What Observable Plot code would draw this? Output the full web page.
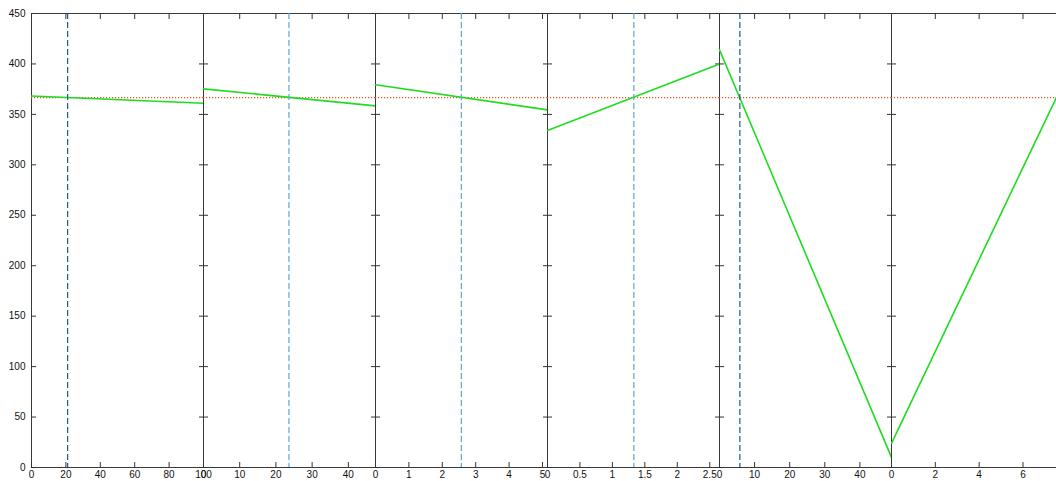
<!DOCTYPE html>
<html>
<head>
<meta charset="utf-8">
<script src="https://cdn.jsdelivr.net/npm/d3@7"></script>
<script src="https://cdn.jsdelivr.net/npm/@observablehq/plot@0.6"></script>
<style>
  html, body { margin: 0; padding: 0; background: #fff; overflow: hidden; }
  #chart { display: flex; flex-direction: row; width: 1056px; height: 481px; }
  #chart svg { overflow: visible; flex: none; }
</style>
</head>
<body>
<div id="chart"></div>
<script>
// ---- data ----
const yTicks = [0, 50, 100, 150, 200, 250, 300, 350, 400, 450];
const yDomain = [0, 450];
const xMax = [100, 47.5, 5.15, 2.65, 49, 7.53];
const xTicks = [
  [0, 20, 40, 60, 80, 100],
  [0, 10, 20, 30, 40],
  [0, 1, 2, 3, 4, 5],
  [0, 0.5, 1, 1.5, 2, 2.5],
  [0, 10, 20, 30, 40],
  [0, 2, 4, 6]
];
const lineX = [[0, 100], [0, 47.5], [0, 5.15], [0, 2.65], [0, 49], [0, 7.53]];
const lineY = [[368.3, 361], [375.3, 358.4], [379.3, 354.5], [334, 400], [414, 10], [24, 367]];
const currentX = [21, 23.6, 2.57, 1.33, 5.8, null];
const baselineY = 366.7;

// ---- styles ----
const dashColors = ["#1c5c8c", "#5ea6d4", "#5ea6d4", "#5ea6d4", "#1c5c8c", "#5ea6d4"];
const panelWidths = [203, 172, 172, 172, 172, 165];

const chart = document.getElementById("chart");
const noLabel = () => "";

xMax.forEach((mx, i) => {
  const pts = lineX[i].map((x, j) => ({x, y: lineY[i][j]}));
  const last = i === xMax.length - 1;
  const marks = [];
  if (!last) {
    marks.push(Plot.frame({stroke: "#3a3a3a"}));
  } else {
    marks.push(Plot.ruleX([0], {stroke: "#3a3a3a"}));
    marks.push(Plot.ruleY([0, 450], {stroke: "#3a3a3a"}));
  }
  // inward ticks
  marks.push(Plot.axisX({anchor: "bottom", ticks: xTicks[i], tickSize: 5, dy: -5, tickFormat: noLabel, label: null, stroke: "#333"}));
  marks.push(Plot.axisX({anchor: "top", ticks: xTicks[i], tickSize: 5, dy: 5, tickFormat: noLabel, label: null, stroke: "#333"}));
  marks.push(Plot.axisY({anchor: "left", ticks: yTicks, tickSize: 5, dx: 5, tickFormat: noLabel, label: null, stroke: "#333"}));
  if (!last) marks.push(Plot.axisY({anchor: "right", ticks: yTicks, tickSize: 5, dx: -5, tickFormat: noLabel, label: null, stroke: "#333"}));
  // labels
  marks.push(Plot.axisX({anchor: "bottom", ticks: xTicks[i], tickSize: 0, tickPadding: 3, tickFormat: d => String(d), label: null, fill: "#111", fontSize: 10}));
  if (i === 0) marks.push(Plot.axisY({anchor: "left", ticks: yTicks, tickSize: 0, tickPadding: 6, label: null, fill: "#111", fontSize: 10}));
  // data
  marks.push(Plot.ruleY([baselineY], {stroke: "#e4501a", strokeWidth: 1.2, strokeDasharray: "1.2,1.8"}));
  marks.push(Plot.line(pts, {x: "x", y: "y", stroke: "#1fdc1f", strokeWidth: 1.6}));
  if (currentX[i] != null) marks.push(Plot.ruleX([currentX[i]], {stroke: dashColors[i], strokeWidth: 1.2, strokeDasharray: "6,3"}));

  const svg = Plot.plot({
    width: panelWidths[i],
    height: 481,
    marginLeft: i === 0 ? 31 : 0,
    marginRight: 0,
    marginTop: 13,
    marginBottom: 14,
    style: {fontFamily: "'Liberation Sans', Arial, sans-serif", fontSize: "10px", overflow: "visible", background: "transparent"},
    x: {domain: [0, mx], axis: null},
    y: {domain: yDomain, axis: null},
    marks
  });
  chart.appendChild(svg);
});
</script>
</body>
</html>
